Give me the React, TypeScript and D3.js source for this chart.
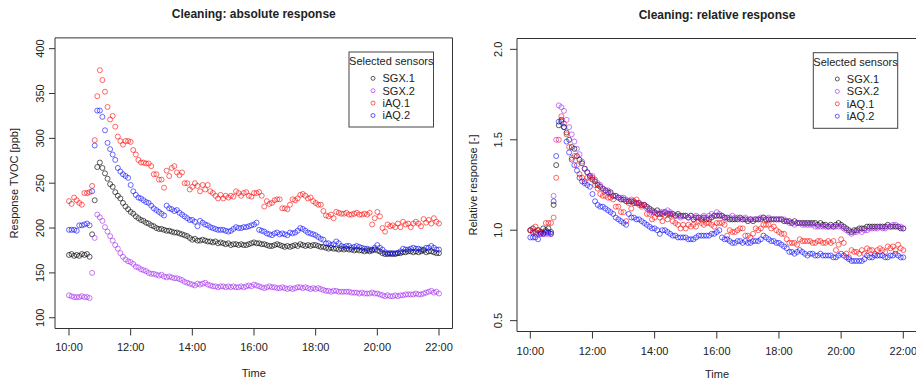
import React, { useEffect, useRef } from "react";
import * as d3 from "d3";

// 5-minute samples from 10:00 to 22:00 (hours as decimals)
const TIME = d3.range(0, 145).map((i) => 10 + i / 12);

const SENSORS = ["SGX.1", "SGX.2", "iAQ.1", "iAQ.2"];
const COLORS = ["#000000", "#a020f0", "#ff0000", "#0000ff"];

const X_TICKS = [10, 12, 14, 16, 18, 20, 22];
const X_LABELS = ["10:00", "12:00", "14:00", "16:00", "18:00", "20:00", "22:00"];
const ABS_TICKS = [100, 150, 200, 250, 300, 350, 400];
const REL_TICKS = [0.5, 1.0, 1.5, 2.0];
const REL_LABELS = ["0.5", "1.0", "1.5", "2.0"];

// absolute response [ppb], one row per hour
const ABS_SGX1 = [
  170, 171, 169, 170, 169, 171, 170, 171, 168, 193, 231, 268,
  273, 267, 261, 255, 249, 246, 240, 236, 233, 228, 224, 221,
  218, 216, 213, 211, 209, 208, 206, 205, 203, 202, 200, 199,
  199, 198, 197, 197, 196, 195, 195, 194, 193, 192, 191, 189,
  187, 188, 186, 186, 187, 186, 185, 185, 184, 185, 183, 184,
  183, 182, 183, 181, 182, 182, 181, 182, 181, 181, 182, 183,
  184, 183, 183, 182, 182, 181, 180, 180, 181, 182, 181, 180,
  179, 180, 179, 180, 181, 180, 182, 181, 180, 181, 180, 181,
  181, 180, 179, 179, 178, 177, 178, 177, 177, 176, 177, 176,
  177, 176, 176, 175, 176, 175, 175, 174, 175, 174, 175, 176,
  175, 174, 172, 171, 171, 172, 171, 171, 172, 172, 173, 173,
  174, 174, 173, 174, 173, 174, 175, 173, 174, 174, 173, 172,
  172,
];
const ABS_SGX2 = [
  125, 124, 123, 123, 123, 124, 123, 123, 122, 150, 189, 215,
  212, 208, 201, 196, 191, 186, 181, 177, 172, 168, 165, 163,
  162, 160, 157, 156, 154, 153, 152, 150, 149, 149, 148, 147,
  148, 146, 145, 146, 145, 144, 144, 143, 142, 140, 139, 138,
  137, 136, 138, 137, 138, 139, 137, 136, 135, 135, 134, 135,
  135, 134, 135, 134, 135, 134, 134, 135, 134, 135, 136, 135,
  137, 136, 135, 134, 133, 134, 135, 134, 134, 133, 133, 134,
  133, 132, 133, 132, 133, 134, 134, 133, 134, 133, 132, 133,
  132, 133, 132, 131, 130, 130, 129, 130, 130, 129, 129, 129,
  129, 129, 128, 128, 128, 127, 128, 127, 127, 127, 128, 127,
  127, 126, 125, 124, 125, 124, 124, 125, 124, 125, 125, 126,
  126, 126, 126, 127, 126, 126, 127, 128, 129, 130, 128, 129,
  127,
];
const ABS_IAQ1 = [
  230, 227, 234, 231, 228, 226, 239, 239, 240, 247, 298, 347,
  376, 365, 352, 335, 321, 325, 313, 302, 297, 293, 297, 297,
  296, 287, 282, 276, 273, 273, 272, 272, 269, 260, 260, 254,
  254, 245, 264, 258, 267, 269, 262, 259, 262, 250, 250, 243,
  246, 250, 247, 241, 248, 243, 248, 241, 239, 236, 233, 237,
  233, 236, 234, 236, 235, 241, 239, 236, 239, 240, 236, 235,
  239, 239, 240, 236, 224, 230, 227, 228, 231, 232, 232, 222,
  222, 221, 226, 232, 231, 233, 237, 238, 236, 233, 234, 230,
  228, 226, 226, 219, 214, 213, 215, 211, 218, 217, 216, 216,
  217, 215, 215, 216, 217, 215, 215, 216, 215, 217, 204, 211,
  218, 213, 200, 196, 204, 202, 203, 201, 205, 201, 207, 204,
  205, 201, 205, 207, 205, 202, 210, 206, 209, 205, 211, 207,
  205,
];
const ABS_IAQ2 = [
  198, 198, 198, 197, 203, 203, 204, 205, 203, 241, 292, 331,
  331, 324, 309, 295, 288, 282, 276, 267, 263, 260, 258, 256,
  248, 241, 237, 234, 233, 231, 229, 228, 225, 222, 220, 218,
  216, 214, 225, 222, 221, 219, 220, 217, 215, 213, 211, 209,
  209, 207, 202, 208, 206, 204, 203, 201, 200, 199, 198, 198,
  198, 197, 196, 197, 199, 201, 200, 200, 201, 201, 202, 203,
  204, 206, 198, 197, 196, 194, 193, 192, 194, 195, 193, 194,
  193, 192, 195, 194, 195, 197, 200, 199, 197, 195, 194, 193,
  192, 190, 188, 187, 183, 183, 181, 182, 185, 183, 180, 179,
  180, 180, 178, 179, 180, 179, 178, 177, 177, 176, 176, 178,
  181, 178, 176, 173, 172, 171, 172, 172, 172, 174, 177, 176,
  176, 177, 178, 177, 177, 176, 176, 178, 178, 180, 178, 176,
  176,
];

// relative response [-]
const REL_SGX1 = [
  1.00, 1.01, 0.99, 1.00, 0.99, 1.01, 1.00, 1.01, 0.99, 1.14, 1.36, 1.58,
  1.61, 1.57, 1.54, 1.50, 1.46, 1.45, 1.41, 1.39, 1.37, 1.34, 1.32, 1.30,
  1.28, 1.27, 1.25, 1.24, 1.23, 1.22, 1.21, 1.21, 1.19, 1.19, 1.18, 1.17,
  1.17, 1.16, 1.16, 1.16, 1.15, 1.15, 1.15, 1.14, 1.14, 1.13, 1.12, 1.11,
  1.10, 1.11, 1.09, 1.09, 1.10, 1.09, 1.09, 1.09, 1.08, 1.09, 1.08, 1.08,
  1.08, 1.07, 1.08, 1.06, 1.07, 1.07, 1.06, 1.07, 1.06, 1.06, 1.07, 1.08,
  1.08, 1.08, 1.08, 1.07, 1.07, 1.06, 1.06, 1.06, 1.06, 1.07, 1.06, 1.06,
  1.05, 1.06, 1.05, 1.06, 1.06, 1.06, 1.07, 1.06, 1.06, 1.06, 1.06, 1.06,
  1.06, 1.06, 1.05, 1.05, 1.05, 1.04, 1.05, 1.04, 1.04, 1.04, 1.04, 1.04,
  1.04, 1.04, 1.04, 1.03, 1.04, 1.03, 1.03, 1.02, 1.03, 1.02, 1.03, 1.04,
  1.03, 1.02, 1.01, 1.00, 0.99, 1.00, 1.00, 1.01, 1.01, 1.01, 1.02, 1.02,
  1.02, 1.02, 1.02, 1.02, 1.02, 1.02, 1.03, 1.02, 1.02, 1.02, 1.02, 1.01,
  1.01,
];
const REL_SGX2 = [
  1.00, 0.99, 0.98, 0.98, 0.98, 0.99, 0.98, 0.98, 0.98, 1.19, 1.50, 1.69,
  1.68, 1.66, 1.61, 1.57, 1.53, 1.49, 1.45, 1.42, 1.38, 1.34, 1.32, 1.30,
  1.30, 1.28, 1.26, 1.25, 1.23, 1.22, 1.22, 1.20, 1.19, 1.19, 1.18, 1.18,
  1.18, 1.17, 1.16, 1.17, 1.16, 1.15, 1.15, 1.14, 1.14, 1.12, 1.11, 1.10,
  1.10, 1.09, 1.10, 1.10, 1.10, 1.11, 1.10, 1.09, 1.08, 1.08, 1.07, 1.08,
  1.08, 1.07, 1.08, 1.07, 1.08, 1.07, 1.07, 1.08, 1.07, 1.08, 1.09, 1.08,
  1.10, 1.09, 1.08, 1.07, 1.06, 1.07, 1.08, 1.07, 1.07, 1.06, 1.06, 1.07,
  1.06, 1.06, 1.06, 1.06, 1.06, 1.07, 1.07, 1.06, 1.07, 1.06, 1.06, 1.06,
  1.06, 1.06, 1.06, 1.05, 1.04, 1.04, 1.03, 1.04, 1.04, 1.03, 1.03, 1.03,
  1.03, 1.03, 1.02, 1.02, 1.02, 1.02, 1.02, 1.02, 1.02, 1.02, 1.02, 1.02,
  1.02, 1.01, 1.00, 0.99, 0.98, 0.99, 0.99, 1.00, 0.99, 1.00, 1.00, 1.01,
  1.01, 1.01, 1.01, 1.02, 1.01, 1.01, 1.02, 1.02, 1.03, 1.03, 1.02, 1.02,
  1.01,
];
const REL_IAQ1 = [
  1.00, 0.99, 1.02, 1.00, 0.99, 0.98, 1.04, 1.04, 1.04, 1.07, 1.29, 1.50,
  1.63, 1.59, 1.53, 1.46, 1.40, 1.41, 1.36, 1.31, 1.29, 1.27, 1.29, 1.29,
  1.29, 1.25, 1.23, 1.20, 1.19, 1.19, 1.18, 1.18, 1.17, 1.13, 1.13, 1.10,
  1.10, 1.05, 1.15, 1.12, 1.16, 1.17, 1.14, 1.13, 1.14, 1.09, 1.09, 1.06,
  1.07, 1.09, 1.07, 1.05, 1.08, 1.06, 1.08, 1.05, 1.04, 1.03, 1.01, 1.03,
  1.01, 1.03, 1.02, 1.03, 1.02, 1.05, 1.04, 1.03, 1.04, 1.04, 1.03, 1.02,
  1.04, 1.04, 1.04, 1.03, 0.97, 1.00, 0.99, 0.99, 1.00, 1.01, 1.01, 0.97,
  0.97, 0.96, 0.98, 1.01, 1.00, 1.01, 1.03, 1.03, 1.03, 1.01, 1.02, 1.00,
  0.99, 0.98, 0.98, 0.95, 0.93, 0.93, 0.93, 0.92, 0.95, 0.94, 0.94, 0.94,
  0.94, 0.93, 0.93, 0.94, 0.94, 0.93, 0.93, 0.94, 0.93, 0.94, 0.89, 0.92,
  0.95, 0.93, 0.87, 0.85, 0.89, 0.88, 0.88, 0.87, 0.89, 0.87, 0.90, 0.89,
  0.89, 0.87, 0.89, 0.90, 0.89, 0.88, 0.91, 0.90, 0.91, 0.89, 0.92, 0.90,
  0.89,
];
const REL_IAQ2 = [
  0.96, 0.96, 0.96, 0.95, 0.98, 0.98, 0.99, 0.99, 0.98, 1.16, 1.41, 1.60,
  1.60, 1.57, 1.49, 1.43, 1.39, 1.36, 1.33, 1.29, 1.27, 1.26, 1.25, 1.24,
  1.20, 1.16, 1.14, 1.13, 1.13, 1.12, 1.11, 1.10, 1.09, 1.07, 1.06, 1.05,
  1.04, 1.03, 1.09, 1.07, 1.07, 1.06, 1.06, 1.05, 1.04, 1.03, 1.02, 1.01,
  1.01, 1.00, 0.98, 1.00, 1.00, 0.99, 0.98, 0.97, 0.97, 0.96, 0.96, 0.96,
  0.96, 0.95, 0.95, 0.95, 0.96, 0.97, 0.97, 0.97, 0.97, 0.97, 0.98, 0.98,
  0.99, 1.00, 0.96, 0.95, 0.95, 0.94, 0.93, 0.93, 0.94, 0.94, 0.93, 0.94,
  0.93, 0.93, 0.94, 0.94, 0.94, 0.95, 0.97, 0.96, 0.95, 0.94, 0.94, 0.93,
  0.93, 0.92, 0.91, 0.90, 0.88, 0.88, 0.87, 0.88, 0.89, 0.88, 0.87, 0.86,
  0.87, 0.87, 0.86, 0.86, 0.87, 0.86, 0.86, 0.86, 0.86, 0.85, 0.85, 0.86,
  0.87, 0.86, 0.85, 0.84, 0.83, 0.83, 0.83, 0.83, 0.83, 0.84, 0.86, 0.85,
  0.85, 0.86, 0.86, 0.86, 0.86, 0.85, 0.85, 0.86, 0.86, 0.87, 0.86, 0.85,
  0.85,
];

const FONT = "'Liberation Sans', Arial, Helvetica, sans-serif";
const INK = "#222";

type Panel = {
  title: string;
  ylab: string;
  box: { x0: number; x1: number; y0: number; y1: number };
  xRange: [number, number];
  yDomain: [number, number];
  yTicks: number[];
  yLabels: string[];
  yTickLen: number;
  yLabelX: number;
  ylabX: number;
  xLabelDy: number;
  timeDy: number;
  titleY: number;
  series: number[][];
  legend: { x0: number; x1: number; y0: number; y1: number };
};

function drawPanel(svg: any, p: Panel) {
  const { x0, x1, y0, y1 } = p.box;
  const x = d3.scaleLinear().domain([10, 22]).range(p.xRange);
  const y = d3.scaleLinear().domain(p.yDomain).range([y1, y0]);
  const g = svg.append("g");
  const cx = (x0 + x1) / 2;

  g.append("text")
    .attr("x", cx)
    .attr("y", p.titleY)
    .attr("text-anchor", "middle")
    .style("font-family", FONT)
    .style("font-size", "12px")
    .style("font-weight", "bold")
    .style("fill", INK)
    .text(p.title);

  // points, drawn series by series like R's points()
  p.series.forEach((vals, s) => {
    g.append("g")
      .selectAll("circle")
      .data(vals.map((v, i) => [TIME[i], v]))
      .join("circle")
      .attr("cx", (d: number[]) => x(d[0]))
      .attr("cy", (d: number[]) => y(d[1]))
      .attr("r", 2.5)
      .attr("fill", "none")
      .attr("stroke", COLORS[s])
      .attr("stroke-opacity", s === 0 ? 0.7 : 0.65)
      .attr("stroke-width", 0.9);
  });

  // frame
  g.append("path")
    .attr("d", `M${x0},${y0}H${x1}V${y1}H${x0}Z`)
    .attr("fill", "none")
    .attr("stroke", "#333")
    .attr("stroke-width", 1);

  // x axis
  X_TICKS.forEach((t, i) => {
    g.append("line")
      .attr("x1", x(t))
      .attr("x2", x(t))
      .attr("y1", y1)
      .attr("y2", y1 + 7)
      .attr("stroke", "#333");
    g.append("text")
      .attr("x", x(t))
      .attr("y", y1 + p.xLabelDy)
      .attr("text-anchor", "middle")
      .style("font-family", FONT)
      .style("font-size", "11px")
      .style("fill", INK)
      .text(X_LABELS[i]);
  });
  g.append("text")
    .attr("x", cx)
    .attr("y", y1 + p.timeDy)
    .attr("text-anchor", "middle")
    .style("font-family", FONT)
    .style("font-size", "11px")
    .style("fill", INK)
    .text("Time");

  // y axis
  p.yTicks.forEach((t, i) => {
    g.append("line")
      .attr("x1", x0)
      .attr("x2", x0 - p.yTickLen)
      .attr("y1", y(t))
      .attr("y2", y(t))
      .attr("stroke", "#333");
    g.append("text")
      .attr("transform", `translate(${p.yLabelX},${y(t)}) rotate(-90)`)
      .attr("text-anchor", "middle")
      .attr("dy", "0.35em")
      .style("font-family", FONT)
      .style("font-size", "11px")
      .style("fill", INK)
      .text(p.yLabels[i]);
  });
  g.append("text")
    .attr("transform", `translate(${p.ylabX},${(y0 + y1) / 2}) rotate(-90)`)
    .attr("text-anchor", "middle")
    .attr("dy", "0.35em")
    .style("font-family", FONT)
    .style("font-size", "11px")
    .style("fill", INK)
    .text(p.ylab);

  // legend
  const L = p.legend;
  g.append("rect")
    .attr("x", L.x0)
    .attr("y", L.y0)
    .attr("width", L.x1 - L.x0)
    .attr("height", L.y1 - L.y0)
    .attr("fill", "#fff")
    .attr("stroke", "#444");
  g.append("text")
    .attr("x", (L.x0 + L.x1) / 2)
    .attr("y", L.y0 + 9.5)
    .attr("dy", "0.35em")
    .attr("text-anchor", "middle")
    .style("font-family", FONT)
    .style("font-size", "11px")
    .style("fill", INK)
    .text("Selected sensors");
  SENSORS.forEach((name, i) => {
    const ry = L.y0 + 26.3 + i * 12.4;
    g.append("circle")
      .attr("cx", L.x0 + 24)
      .attr("cy", ry)
      .attr("r", 2)
      .attr("fill", "none")
      .attr("stroke", COLORS[i])
      .attr("stroke-opacity", 0.7)
      .attr("stroke-width", 0.9);
    g.append("text")
      .attr("x", L.x0 + 33.5)
      .attr("y", ry)
      .attr("dy", "0.35em")
      .style("font-family", FONT)
      .style("font-size", "11px")
      .style("fill", INK)
      .text(name);
  });
}

export default function App() {
  const svgRef = useRef<SVGSVGElement>(null);

  useEffect(() => {
    const svg = d3.select(svgRef.current);
    svg.selectAll("*").remove();

    drawPanel(svg, {
      title: "Cleaning: absolute response",
      ylab: "Response TVOC [ppb]",
      box: { x0: 55, x1: 452.5, y0: 37.9, y1: 328.5 },
      xRange: [69, 439],
      yDomain: [88, 412],
      yTicks: ABS_TICKS,
      yLabels: ABS_TICKS.map(String),
      yTickLen: 6,
      yLabelX: 40,
      ylabX: 14,
      xLabelDy: 22.5,
      timeDy: 48.5,
      titleY: 18,
      series: [ABS_SGX1, ABS_SGX2, ABS_IAQ1, ABS_IAQ2],
      legend: { x0: 349, x1: 433.5, y0: 52, y1: 127 },
    });

    drawPanel(svg, {
      title: "Cleaning: relative response",
      ylab: "Relative response [-]",
      box: { x0: 517, x1: 917, y0: 38.5, y1: 331.5 },
      xRange: [530.3, 903.3],
      yDomain: [0.44, 2.06],
      yTicks: REL_TICKS,
      yLabels: REL_LABELS,
      yTickLen: 7,
      yLabelX: 497.7,
      ylabX: 472.7,
      xLabelDy: 23.5,
      timeDy: 46.5,
      titleY: 18.5,
      series: [REL_SGX1, REL_SGX2, REL_IAQ1, REL_IAQ2],
      legend: { x0: 813.3, x1: 897.7, y0: 52.7, y1: 128.3 },
    });
  }, []);

  return (
    <svg
      ref={svgRef}
      width={916}
      height={379}
      style={{ position: "absolute", left: 0, top: 0, background: "#fff" }}
    />
  );
}
